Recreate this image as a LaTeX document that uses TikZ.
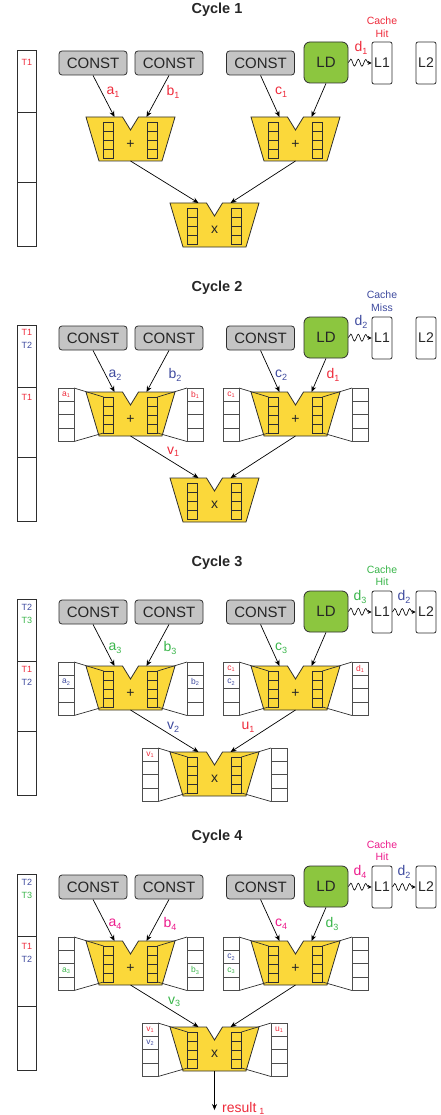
\documentclass[tikz,border=0pt]{standalone}
\usepackage{fontspec}
\setmainfont{Liberation Sans}
\usetikzlibrary{arrows.meta,decorations.pathmorphing}
\definecolor{cred}{HTML}{EE2B3B}
\definecolor{cblue}{HTML}{3E4A9E}
\definecolor{cgreen}{HTML}{39B54A}
\definecolor{cmag}{HTML}{EC1C8C}
\definecolor{aluy}{HTML}{FBD83A}
\definecolor{constg}{HTML}{C4C4C4}
\definecolor{ldg}{HTML}{8CC63F}
\definecolor{edge}{HTML}{2E2E2E}
\newcommand\sbs[1]{\raisebox{-0.35ex}{\fontsize{9}{9}\selectfont #1}}
\newcommand\sbm[1]{\raisebox{-0.3ex}{\fontsize{5.5}{5.5}\selectfont #1}}
\tikzset{
 constbox/.style={draw=edge, line width=0.8pt, fill=constg, rounded corners=3pt, minimum width=68pt, minimum height=24pt, inner sep=0pt, font=\fontsize{15}{15}\selectfont, text=black!85},
 ldbox/.style={draw=edge, line width=0.8pt, fill=ldg, rounded corners=6pt, minimum width=44pt, minimum height=41pt, inner sep=0pt, font=\fontsize{15}{15}\selectfont, text=black!85},
 cachebox/.style={draw=edge, line width=0.8pt, fill=white, rounded corners=2pt, minimum width=20pt, minimum height=42pt, inner sep=0pt, font=\fontsize{14}{14}\selectfont, text=black!85},
 alu/.style={draw=edge, line width=0.8pt, fill=aluy},
 reg/.style={draw=edge, line width=0.8pt},
 buf/.style={draw=edge!85, line width=0.8pt},
 funnel/.style={draw=edge, line width=0.7pt},
 arr/.style={draw=black, line width=0.7pt, -{Stealth[length=6pt,width=5pt]}},
 wave/.style={draw=black, line width=0.6pt, decorate, decoration={snake, amplitude=3.5pt, segment length=7.5pt, post length=3pt}, -{Stealth[length=4pt,width=4pt]}},
 lab/.style={font=\fontsize{14}{14}\selectfont, inner sep=0pt},
 tlab/.style={font=\fontsize{9}{9}\selectfont, inner sep=0pt},
 blab/.style={font=\fontsize{8.5}{8.5}\selectfont, inner sep=0pt},
 titlestyle/.style={font=\fontsize{14.5}{15}\selectfont\bfseries, text=black!85, inner sep=0pt},
 cachetxt/.style={font=\fontsize{10.5}{12.5}\selectfont, align=center, inner sep=0pt},
 alusym/.style={font=\fontsize{14}{14}\selectfont, inner sep=0pt, text=black!85},
 tcol/.style={draw=edge, line width=0.8pt},
}
\newcommand\Reg[2]{%
 \draw[reg] (#1,#2) rectangle ++(10,36);
 \foreach \k in {1,2,3} \draw[reg] (#1,#2+9*\k) -- ++(10,0);}
\newcommand\Buf[2]{%
 \draw[buf] (#1,#2) rectangle ++(16,53.5);
 \foreach \k in {1,2,3} \draw[buf] (#1,#2+13.375*\k) -- ++(16,0);}
\newcommand\Funnel[2]{%
 \draw[funnel] (#1-56.5,#2-4) -- (#1-27,#2+5);
 \draw[funnel] (#1-56.5,#2+49.5) -- (#1-27,#2+41);
 \draw[funnel] (#1+56.5,#2-4) -- (#1+27,#2+5);
 \draw[funnel] (#1+56.5,#2+49.5) -- (#1+27,#2+41);
 \Buf{#1-72.5}{#2-4}\Buf{#1+56.5}{#2-4}}
\newcommand\ALU[5]{%
 \path[alu] (#2-44.5,#3) -- (#2-8,#3) -- (#2,#3+13) -- (#2+8,#3) -- (#2+44.5,#3) -- (#2+31.5,#3+44) -- (#2-31.5,#3+44) -- cycle;
 \node[alusym] (#1) at (#2,#3+27) {#4};
 \Reg{#2-27}{#3+5}\Reg{#2+17}{#3+5}
 \ifnum#5=1 \Funnel{#2}{#3}\fi
 \coordinate (#1-l) at (#2-16,#3);
 \coordinate (#1-r) at (#2+16,#3);
 \coordinate (#1-out) at (#2,#3+44);}
\newcommand\BL[6]{\node[blab,text=#5] (#1) at (#2,#3+13.375*#4-6.6875) {#6};}
\newcommand\Cycle[5]{%
\begin{scope}[shift={(0,#2)}]
 \draw[tcol] (17,-1) rectangle (36,195.5);
 \draw[tcol] (17,61.5) -- (36,61.5);
 \draw[tcol] (17,131) -- (36,131);
 \node[constbox] (#1k1) at (93,12) {CONST};
 \node[constbox] (#1k2) at (169,12) {CONST};
 \node[constbox] (#1k3) at (260.5,12) {CONST};
 \node[ldbox] (#1ld) at (326,11.5) {LD};
 \node[cachebox] (#1L1) at (382,12) {L1};
 \node[cachebox] (#1L2) at (426,12) {L2};
 \ALU{#1p}{130.5}{66}{+}{#3}
 \ALU{#1q}{295.5}{66}{+}{#3}
 \ALU{#1m}{214.5}{152}{x}{#4}
 \draw[arr] (#1k1.south) -- (#1p-l);
 \draw[arr] (#1k2.south) -- (#1p-r);
 \draw[arr] (#1k3.south) -- (#1q-l);
 \draw[arr] (#1ld.south) -- (#1q-r);
 \draw[arr] (#1p-out) -- (#1m-l);
 \draw[arr] (#1q-out) -- (#1m-r);
 \draw[wave] (#1ld.east) -- (#1L1.west);
 #5
\end{scope}}
\begin{document}
\begin{tikzpicture}[x=1pt,y=-1pt]
\useasboundingbox (0,0) rectangle (440,1115);
% titles
\node[titlestyle] (t1) at (217,10) {Cycle 1};
\node[titlestyle] (t2) at (217,288) {Cycle 2};
\node[titlestyle] (t3) at (217,563) {Cycle 3};
\node[titlestyle] (t4) at (217,837) {Cycle 4};
% cycle 1
\Cycle{a}{51}{0}{0}{
 \node[tlab,text=cred] (aT1) at (27,11) {T1};
 \node[cachetxt,text=cred] (acache) at (382,-24) {Cache\\Hit};
 \node[lab,text=cred] (ala) at (113,41) {a\sbs{1}};
 \node[lab,text=cred] (alb) at (173,41) {b\sbs{1}};
 \node[lab,text=cred] (alc) at (281,41) {c\sbs{1}};
 \node[lab,text=cred] (ald) at (361,-3) {d\sbs{1}};
}
% cycle 2
\Cycle{b}{326}{1}{0}{
 \node[tlab,text=cred] (bT1) at (27,6) {T1};
 \node[tlab,text=cblue] (bT2) at (27,19) {T2};
 \node[tlab,text=cred] (bT3) at (27,71) {T1};
 \node[cachetxt,text=cblue] (bcache) at (382,-25) {Cache\\Miss};
 \node[lab,text=cblue] (bla) at (115,49) {a\sbs{2}};
 \node[lab,text=cblue] (blb) at (175,49) {b\sbs{2}};
 \node[lab,text=cblue] (blc) at (281,49) {c\sbs{2}};
 \node[lab,text=cred] (bld) at (333,49) {d\sbs{1}};
 \node[lab,text=cblue] (bldd) at (361,-4) {d\sbs{2}};
 \node[lab,text=cred] (blv) at (173,126) {v\sbs{1}};
 \BL{bb1}{66}{62}{1}{cred}{a\sbm{1}}
 \BL{bb2}{195}{62}{1}{cred}{b\sbm{1}}
 \BL{bb3}{231}{62}{1}{cred}{c\sbm{1}}
}
% cycle 3
\Cycle{c}{600}{1}{1}{
 \draw[wave] (cL1.east) -- (cL2.west);
 \node[tlab,text=cblue] (cT1) at (27,7) {T2};
 \node[tlab,text=cgreen] (cT2) at (27,20) {T3};
 \node[tlab,text=cred] (cT3) at (27,69) {T1};
 \node[tlab,text=cblue] (cT4) at (27,82) {T2};
 \node[cachetxt,text=cgreen] (ccache) at (382,-24.5) {Cache\\Hit};
 \node[lab,text=cgreen] (cla) at (115,48) {a\sbs{3}};
 \node[lab,text=cgreen] (clb) at (170,48) {b\sbs{3}};
 \node[lab,text=cgreen] (clc) at (281,48) {c\sbs{3}};
 \node[lab,text=cgreen] (cld) at (360,-3) {d\sbs{3}};
 \node[lab,text=cblue] (cldd) at (404,-3) {d\sbs{2}};
 \node[lab,text=cblue] (clv) at (173,127) {v\sbs{2}};
 \node[lab,text=cred] (clu) at (248,127) {u\sbs{1}};
 \BL{cb1}{66}{62}{2}{cblue}{a\sbm{2}}
 \BL{cb2}{195}{62}{2}{cblue}{b\sbm{2}}
 \BL{cb3}{231}{62}{1}{cred}{c\sbm{1}}
 \BL{cb4}{231}{62}{2}{cblue}{c\sbm{2}}
 \BL{cb5}{360}{62}{1}{cred}{d\sbm{1}}
 \BL{cb6}{150}{148}{1}{cred}{v\sbm{1}}
}
% cycle 4
\Cycle{d}{875}{1}{1}{
 \draw[wave] (dL1.east) -- (dL2.west);
 \node[tlab,text=cblue] (dT1) at (27,7) {T2};
 \node[tlab,text=cgreen] (dT2) at (27,20) {T3};
 \node[tlab,text=cred] (dT3) at (27,71) {T1};
 \node[tlab,text=cblue] (dT4) at (27,84) {T2};
 \node[cachetxt,text=cmag] (dcache) at (382,-24.5) {Cache\\Hit};
 \node[lab,text=cmag] (dla) at (115,49) {a\sbs{4}};
 \node[lab,text=cmag] (dlb) at (170,49) {b\sbs{4}};
 \node[lab,text=cmag] (dlc) at (281,49) {c\sbs{4}};
 \node[lab,text=cgreen] (dldd) at (332,49) {d\sbs{3}};
 \node[lab,text=cmag] (dld) at (360,-3) {d\sbs{4}};
 \node[lab,text=cblue] (dld2) at (404,-3) {d\sbs{2}};
 \node[lab,text=cgreen] (dlv) at (174,127) {v\sbs{3}};
 \BL{db1}{66}{62}{3}{cgreen}{a\sbm{3}}
 \BL{db2}{195}{62}{3}{cgreen}{b\sbm{3}}
 \BL{db3}{231}{62}{2}{cblue}{c\sbm{2}}
 \BL{db4}{231}{62}{3}{cgreen}{c\sbm{3}}
 \BL{db5}{150}{148}{1}{cred}{v\sbm{1}}
 \BL{db6}{150}{148}{2}{cblue}{v\sbm{2}}
 \BL{db7}{279}{148}{1}{cred}{u\sbm{1}}
 \coordinate (dres) at (214.5,235);
 \draw[arr] (dm-out) -- (dres);
 \node[lab,text=cred,anchor=base west] (dresult) at (222,237) {result\hspace{3pt}\sbs{1}};
}
\end{tikzpicture}
\end{document}
